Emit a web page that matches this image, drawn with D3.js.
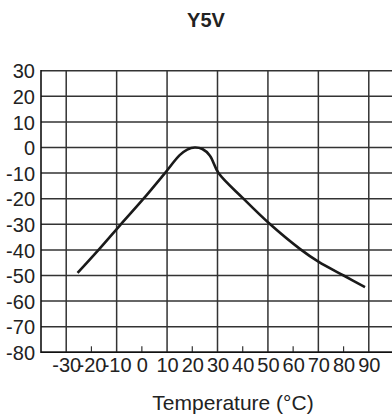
<!DOCTYPE html>
<html>
<head>
<meta charset="utf-8">
<script src="https://cdn.jsdelivr.net/npm/d3@7"></script>
<style>
    body { margin: 0; background: #fff; }
    svg { display: block; font-family: "Liberation Sans", Arial, sans-serif; }
    .tickLabels text { font-size: 20px; fill: #222; }
    .gridLines { stroke: #333; stroke-width: 1.5; }
    .axisLine { stroke: #111; stroke-width: 1.6; }
    .curve { fill: none; stroke: #1a1a1a; stroke-width: 2.6; stroke-linejoin: round; stroke-linecap: butt; }
</style>
</head>
<body>
<script>
//wrap everything in a self-executing anonymous function
(function(){

//tick labels
var xTicks = [-30, -20, -10, 0, 10, 20, 30, 40, 50, 60, 70, 80, 90];
var xGrid = [-30, -10, 10, 30, 50, 70, 90]; //vertical grid lines
var xMinor = [-20, 0, 20, 40, 60, 80];     //small ticks on bottom axis
var yTicks = [30, 20, 10, 0, -10, -20, -30, -40, -50, -60, -70, -80];

//Y5V curve: temperature (C) and capacitance change (%)
var tempC = [-25.5, -17, -8.5, 0.5, 9, 15, 18, 21, 24, 27, 30.4, 40.3, 50.9, 62.8, 70, 80.4, 88.5];
var capChange = [-49, -39.8, -30.2, -20.2, -10.2, -3, -0.8, 0, -0.6, -3.2, -10, -20, -30, -39.7, -44.6, -50.2, -54.5];

window.onload = setChart();

function setChart(){
    var width = 392,
        height = 414;

    var svg = d3.select("body")
        .append("svg")
        .attr("width", width)
        .attr("height", height);

    //scales
    var x = d3.scaleLinear()
        .domain([-40, 100])
        .range([41, 394]);

    var y = d3.scaleLinear()
        .domain([-80, 30])
        .range([352.3, 70.7]);

    //plain hyphen minus like the original
    var fmt = function(d){ return String(d); };

    //horizontal grid lines
    svg.selectAll(".hGrid")
        .data(yTicks)
        .enter()
        .append("line")
        .attr("class", "gridLines")
        .attr("x1", x(-40))
        .attr("x2", width)
        .attr("y1", function(d){ return y(d); })
        .attr("y2", function(d){ return y(d); });

    //vertical grid lines
    svg.selectAll(".vGrid")
        .data(xGrid)
        .enter()
        .append("line")
        .attr("class", "gridLines")
        .attr("x1", function(d){ return x(d); })
        .attr("x2", function(d){ return x(d); })
        .attr("y1", y(30))
        .attr("y2", y(-80));

    //minor ticks
    svg.selectAll(".minor")
        .data(xMinor)
        .enter()
        .append("line")
        .attr("class", "gridLines")
        .style("stroke-width", 1.2)
        .attr("x1", function(d){ return x(d); })
        .attr("x2", function(d){ return x(d); })
        .attr("y1", y(-80))
        .attr("y2", y(-80) - 6);

    //axis lines
    svg.append("line")
        .attr("class", "axisLine")
        .attr("x1", x(-40)).attr("x2", x(-40))
        .attr("y1", y(30) - 0.8).attr("y2", y(-80) + 0.8);

    svg.append("line")
        .attr("class", "axisLine")
        .attr("x1", x(-40)).attr("x2", width)
        .attr("y1", y(-80)).attr("y2", y(-80));

    //y labels
    var yAxis = d3.axisLeft(y)
        .tickValues(yTicks)
        .tickSize(0)
        .tickPadding(6)
        .tickFormat(fmt);

    svg.append("g")
        .attr("class", "tickLabels")
        .attr("transform", "translate(" + x(-40) + ",0)")
        .call(yAxis)
        .call(function(g){ g.select(".domain").remove(); })
        .selectAll("text")
        .attr("dy", "0.36em");

    //x labels
    var xAxis = d3.axisBottom(x)
        .tickValues(xTicks)
        .tickSize(0)
        .tickPadding(6)
        .tickFormat(fmt);

    svg.append("g")
        .attr("class", "tickLabels")
        .attr("transform", "translate(0," + y(-80) + ")")
        .call(xAxis)
        .call(function(g){ g.select(".domain").remove(); });

    //let the css set the label font
    svg.selectAll(".tickLabels").attr("font-size", null).attr("font-family", null);

    //the curve
    var points = tempC.map(function(t, i){ return [t, capChange[i]]; });

    var line = d3.line()
        .x(function(d){ return x(d[0]); })
        .y(function(d){ return y(d[1]); })
        .curve(d3.curveCatmullRom.alpha(0.5));

    svg.append("path")
        .datum(points)
        .attr("class", "curve")
        .attr("d", line);

    //title
    svg.append("text")
        .attr("x", 206)
        .attr("y", 26.5)
        .attr("text-anchor", "middle")
        .style("font-size", "20px")
        .style("font-weight", "bold")
        .style("fill", "#222")
        .text("Y5V");

    //x axis title
    svg.append("text")
        .attr("x", 233)
        .attr("y", 409.5)
        .attr("text-anchor", "middle")
        .style("font-size", "21px")
        .style("fill", "#222")
        .text("Temperature (\u00B0C)");
};

})();
</script>
</body>
</html>
